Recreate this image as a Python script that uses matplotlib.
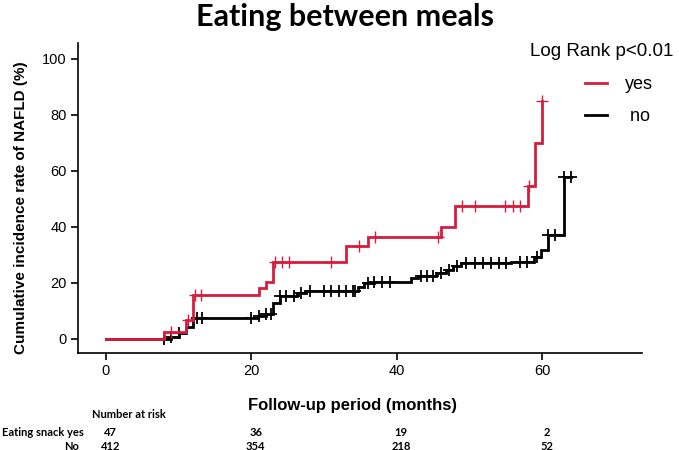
import numpy as np
import matplotlib
matplotlib.use("Agg")
import matplotlib.pyplot as plt
from matplotlib.lines import Line2D
import matplotlib.transforms as mtransforms

# ---------------- data ----------------
yes_times = [0, 8, 11, 12, 21, 22, 23, 33, 36, 46, 48, 58, 59, 60]
yes_cum = [0, 2.4, 6.8, 15.7, 18.1, 20.2, 27.6, 33.2, 36.5, 39.9, 47.5, 54.6, 69.9, 85.1]
yes_end = 60
yes_censor = [9, 11.3, 12.3, 13.0, 23.3, 24.2, 25.2, 31, 34.8, 37, 45.7, 48.9, 50.8,
              54.9, 55.9, 56.9, 58.2, 60]

no_times = [0, 9, 10, 11, 12, 20.9, 22, 23, 23.9, 26.2, 27.5, 34.6, 35.5, 36.9, 41.9,
            42.9, 45.4, 46.7, 47.7, 48.8, 55.7, 58.8, 59.8, 60.8, 63]
no_cum = [0, 0.8, 2.0, 4.4, 7.6, 8.2, 9.0, 12.7, 15.4, 16.3, 17.3, 18.7, 19.9, 20.5, 21.7,
          22.5, 23.5, 24.6, 26.1, 27.0, 27.6, 29.4, 31.8, 37.1, 58.0]
no_end = 63.9
no_censor = [8.0, 9.0, 10.0, 12.5, 13.2, 20.0, 21.1, 22.0, 22.7, 23.9, 24.8, 25.8, 26.8,
             28.0, 30.0, 31.0, 32.0, 33.0, 33.9, 34.3, 36.0, 36.9, 38.0, 39.0, 43.3, 44.2,
             44.9, 46.0, 47.2, 48.2, 49.5, 50.8, 51.9, 52.9, 54.0, 55.0, 56.9, 57.9, 59.3,
             60.8, 61.8, 63.0, 63.9]

risk_times = [0, 20, 40, 60]
risk_yes = [47, 36, 19, 2]
risk_no = [412, 354, 218, 52]

RED = "#D51E3E"
BLACK = "#000000"


def step_value(times, vals, t):
    idx = np.searchsorted(times, t, side="right") - 1
    return np.asarray(vals)[idx]


fig = plt.figure(figsize=(6.79, 4.5), dpi=100)
ax = fig.add_axes([78 / 679, 1 - 353 / 450, (642 - 78) / 679, (353 - 43) / 450])

for times, vals, end, cens, col, mew in [
    (no_times, no_cum, no_end, no_censor, BLACK, 1.3),
    (yes_times, yes_cum, yes_end, yes_censor, RED, 1.0),
]:
    t = list(times) + [end]
    v = list(vals) + [vals[-1]]
    ax.step(t, v, where="post", color=col, lw=2.0, solid_joinstyle="miter")
    cy = [step_value(times, vals, c) for c in cens]
    ax.plot(cens, cy, linestyle="none", marker="+", color=col, ms=9, mew=mew)

ax.set_xlim(-3.85, 73.7)
ax.set_ylim(-5, 105.7)
ax.set_xticks([0, 20, 40, 60])
ax.set_yticks([0, 20, 40, 60, 80, 100])
for s in ["top", "right"]:
    ax.spines[s].set_visible(False)
for s in ["left", "bottom"]:
    ax.spines[s].set_linewidth(1.2)
ax.tick_params(axis="both", length=5, width=1.2, labelsize=10.5, pad=3)
for lab in ax.get_xticklabels() + ax.get_yticklabels():
    lab.set_fontfamily("Liberation Sans")

ax.set_ylabel("Cumulative incidence rate of NAFLD (%)", fontsize=11,
              fontweight="bold", family="Liberation Sans")
ax.yaxis.set_label_coords(-0.089, 0.47)
ax.set_xlabel("Follow-up period (months)", fontsize=12, fontweight="bold",
              family="Liberation Sans")
ax.xaxis.set_label_coords(0.486, -0.145)

fig.text(0.508, 0.962, "Eating between meals", ha="center", va="center",
         fontsize=22, fontweight="bold", family="Lato")

# legend
fig.text(530 / 679, 1 - 52 / 450, "Log Rank p<0.01", ha="left", va="center",
         fontsize=13.5, family="Liberation Sans")
leg_handles = [Line2D([0], [0], color=RED, lw=2), Line2D([0], [0], color=BLACK, lw=2)]
leg = ax.legend(leg_handles, ["yes", " no"], loc="upper left",
                bbox_to_anchor=((585 - 78) / 564, 1 - (76 - 43) / 310),
                frameon=False, borderpad=0, borderaxespad=0, handlelength=1.2,
                handletextpad=1.0, labelspacing=0.85,
                prop={"family": "Liberation Sans", "size": 13})

# number at risk table
trans = mtransforms.blended_transform_factory(ax.transData, fig.transFigure)
tfont = dict(family="Lato", fontsize=8, fontweight="bold", va="center")
fig.text(92 / 679, 1 - 415 / 450, "Number at risk", ha="left", **tfont)
fig.text(84 / 679, 1 - 432 / 450, "Eating snack yes", ha="right", **tfont)
fig.text(79 / 679, 1 - 446 / 450, "No", ha="right", **tfont)
for t, a, b in zip(risk_times, risk_yes, risk_no):
    ax.text(t + 0.6, 1 - 432 / 450, str(a), transform=trans, ha="center", **tfont)
    ax.text(t + 0.6, 1 - 446 / 450, str(b), transform=trans, ha="center", **tfont)

fig.savefig("out.png", dpi=100)
